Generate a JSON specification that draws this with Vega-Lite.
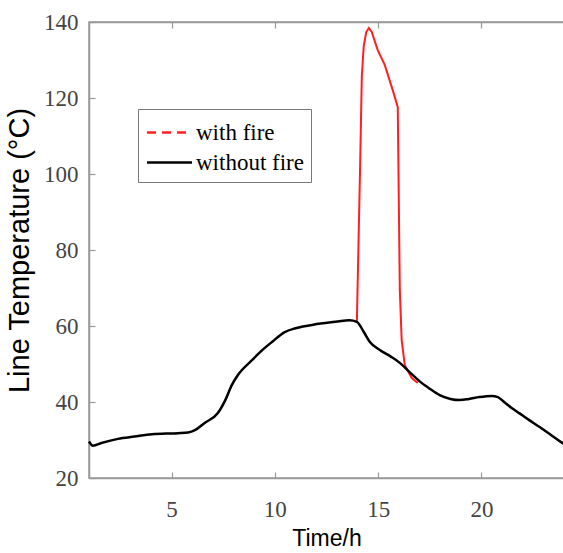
{
  "$schema": "https://vega.github.io/schema/vega-lite/v6.json",
  "autosize": "none",
  "padding": {"left": 89, "top": 22, "right": 0, "bottom": 75},
  "width": 475,
  "height": 456,
  "config": {
    "view": {"stroke": "#999999", "strokeWidth": 1.5},
    "axis": {
      "domainColor": "#999999",
      "domainWidth": 1.5,
      "tickColor": "#999999",
      "tickWidth": 1.2,
      "labelFont": "Liberation Serif",
      "labelFontSize": 23,
      "labelColor": "#444444",
      "titleFont": "Liberation Sans",
      "titleFontWeight": "normal",
      "titleColor": "#000000",
      "grid": false
    }
  },
  "data": {"values": [
    {"t": 13.97, "temp": 61.1, "series": "with fire"},
    {"t": 14.12, "temp": 100.0, "series": "with fire"},
    {"t": 14.21, "temp": 125.6, "series": "with fire"},
    {"t": 14.3, "temp": 133.5, "series": "with fire"},
    {"t": 14.42, "temp": 137.3, "series": "with fire"},
    {"t": 14.55, "temp": 138.4, "series": "with fire"},
    {"t": 14.69, "temp": 137.4, "series": "with fire"},
    {"t": 14.98, "temp": 132.6, "series": "with fire"},
    {"t": 15.32, "temp": 128.7, "series": "with fire"},
    {"t": 15.71, "temp": 122.0, "series": "with fire"},
    {"t": 15.95, "temp": 117.6, "series": "with fire"},
    {"t": 16.05, "temp": 69.5, "series": "with fire"},
    {"t": 16.14, "temp": 56.3, "series": "with fire"},
    {"t": 16.29, "temp": 49.7, "series": "with fire"},
    {"t": 16.63, "temp": 46.3, "series": "with fire"},
    {"t": 16.92, "temp": 45.0, "series": "with fire"},
    {"t": 1.0, "temp": 29.6, "series": "without fire"},
    {"t": 1.19, "temp": 28.5, "series": "without fire"},
    {"t": 1.6, "temp": 29.2, "series": "without fire"},
    {"t": 2.4, "temp": 30.3, "series": "without fire"},
    {"t": 3.2, "temp": 30.9, "series": "without fire"},
    {"t": 4.05, "temp": 31.5, "series": "without fire"},
    {"t": 5.31, "temp": 31.8, "series": "without fire"},
    {"t": 5.8, "temp": 32.0, "series": "without fire"},
    {"t": 6.13, "temp": 32.6, "series": "without fire"},
    {"t": 6.6, "temp": 34.5, "series": "without fire"},
    {"t": 7.24, "temp": 37.1, "series": "without fire"},
    {"t": 7.6, "temp": 40.5, "series": "without fire"},
    {"t": 7.92, "temp": 44.5, "series": "without fire"},
    {"t": 8.21, "temp": 47.1, "series": "without fire"},
    {"t": 8.89, "temp": 51.0, "series": "without fire"},
    {"t": 9.4, "temp": 53.7, "series": "without fire"},
    {"t": 9.86, "temp": 55.8, "series": "without fire"},
    {"t": 10.48, "temp": 58.4, "series": "without fire"},
    {"t": 11.0, "temp": 59.4, "series": "without fire"},
    {"t": 12.03, "temp": 60.5, "series": "without fire"},
    {"t": 13.05, "temp": 61.2, "series": "without fire"},
    {"t": 13.6, "temp": 61.5, "series": "without fire"},
    {"t": 13.97, "temp": 61.1, "series": "without fire"},
    {"t": 14.3, "temp": 58.5, "series": "without fire"},
    {"t": 14.6, "temp": 55.8, "series": "without fire"},
    {"t": 15.08, "temp": 53.7, "series": "without fire"},
    {"t": 15.6, "temp": 52.0, "series": "without fire"},
    {"t": 16.05, "temp": 50.3, "series": "without fire"},
    {"t": 16.5, "temp": 48.0, "series": "without fire"},
    {"t": 17.0, "temp": 45.5, "series": "without fire"},
    {"t": 17.5, "temp": 43.5, "series": "without fire"},
    {"t": 17.98, "temp": 41.8, "series": "without fire"},
    {"t": 18.5, "temp": 40.8, "series": "without fire"},
    {"t": 18.95, "temp": 40.5, "series": "without fire"},
    {"t": 19.4, "temp": 40.8, "series": "without fire"},
    {"t": 19.9, "temp": 41.3, "series": "without fire"},
    {"t": 20.5, "temp": 41.6, "series": "without fire"},
    {"t": 20.8, "temp": 41.3, "series": "without fire"},
    {"t": 21.1, "temp": 40.0, "series": "without fire"},
    {"t": 21.45, "temp": 38.5, "series": "without fire"},
    {"t": 21.85, "temp": 37.0, "series": "without fire"},
    {"t": 22.3, "temp": 35.3, "series": "without fire"},
    {"t": 22.82, "temp": 33.4, "series": "without fire"},
    {"t": 23.4, "temp": 31.2, "series": "without fire"},
    {"t": 23.93, "temp": 29.2, "series": "without fire"},
    {"t": 24.0, "temp": 29.0, "series": "without fire"}
  ]},
  "resolve": {"axis": {"x": "independent"}},
  "layer": [
    {
      "transform": [{"filter": "datum.series === 'with fire'"}],
      "mark": {"type": "line", "strokeWidth": 2, "interpolate": "linear"},
      "encoding": {
        "x": {"field": "t", "type": "quantitative", "scale": {"domain": [1, 24], "nice": false, "zero": false},
          "axis": {"orient": "bottom", "values": [5, 10, 15, 20], "tickSize": -6, "labelPadding": 26, "title": "Time/h", "titleFontSize": 23, "titlePadding": 6}},
        "y": {"field": "temp", "type": "quantitative", "scale": {"domain": [20, 140], "nice": false, "zero": false},
          "axis": {"values": [20, 40, 60, 80, 100, 120, 140], "tickSize": -6, "labelPadding": 17, "title": "Line Temperature (°C)", "titleFontSize": 29, "titlePadding": 9}},
        "color": {"field": "series", "type": "nominal",
          "scale": {"domain": ["with fire", "without fire"], "range": ["#ff2020", "#000000"]},
          "legend": {
            "orient": "none", "legendX": 49, "legendY": 87, "title": null,
            "symbolType": "M-1.5,0H1.5", "symbolSize": 900, "symbolStrokeWidth": 2.5,
            "symbolOffset": 8,
            "labelFont": "Liberation Serif", "labelFontSize": 23, "labelColor": "#000000",
            "labelOffset": 10, "rowPadding": 1, "padding": 7,
            "strokeColor": "#777777", "fillColor": "#ffffff",
            "encode": {"symbols": {"update": {"strokeDash": {"signal": "datum.label === 'with fire' ? [9, 6] : [1, 0]"}}}}
          }}
      }
    },
    {
      "transform": [{"filter": "datum.series === 'without fire'"}],
      "mark": {"type": "line", "strokeWidth": 2.5, "interpolate": "monotone"},
      "encoding": {
        "x": {"field": "t", "type": "quantitative",
          "axis": {"orient": "top", "values": [5, 10, 15, 20], "tickSize": -6, "labels": false, "title": null}},
        "y": {"field": "temp", "type": "quantitative"},
        "color": {"field": "series", "type": "nominal"}
      }
    }
  ]
}
